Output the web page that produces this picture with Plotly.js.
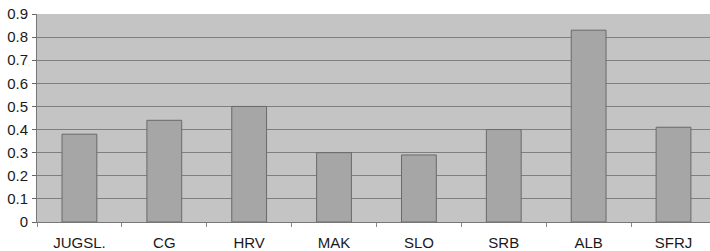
<!DOCTYPE html>
<html><head><meta charset="utf-8">
<script src="https://cdn.plot.ly/plotly-3.0.1.min.js"></script>
<style>html,body{margin:0;padding:0;overflow:hidden;background:#fff}</style>
</head><body>
<div id="chart" style="width:710px;height:251px"></div>
<script>
const categories = ["JUGSL.", "CG", "HRV", "MAK", "SLO", "SRB", "ALB", "SFRJ"];
const values = [0.38, 0.44, 0.50, 0.30, 0.29, 0.40, 0.83, 0.41];
const yTicks = [0, 0.1, 0.2, 0.3, 0.4, 0.5, 0.6, 0.7, 0.8, 0.9];
const yTickLabels = ["0", "0.1", "0.2", "0.3", "0.4", "0.5", "0.6", "0.7", "0.8", "0.9"];

Plotly.newPlot("chart", [{
  type: "bar",
  x: categories,
  y: values,
  width: 0.41,
  marker: {color: "#a6a6a6", line: {color: "#6a6a6a", width: 1}},
  hoverinfo: "none"
}], {
  width: 710, height: 251,
  margin: {l: 37, r: 0, t: 14, b: 29},
  paper_bgcolor: "#ffffff",
  plot_bgcolor: "#c4c4c4",
  showlegend: false,
  font: {family: "Liberation Sans, Arial, sans-serif", size: 15, color: "#1a1a1a"},
  xaxis: {
    type: "category",
    range: [-0.5, 7.43],
    tickson: "boundaries",
    ticks: "outside", ticklen: 4, tickcolor: "#888",
    ticklabelstandoff: 7,
    showgrid: false,
    showline: true, linecolor: "#777", linewidth: 1,
    tickfont: {size: 15, color: "#1a1a1a"},
    fixedrange: true
  },
  yaxis: {
    range: [0, 0.9],
    tickvals: yTicks, ticktext: yTickLabels,
    ticks: "outside", ticklen: 4, tickcolor: "#666",
    ticklabelstandoff: 1,
    showgrid: true, gridcolor: "#7f7f7f", gridwidth: 1,
    zeroline: false,
    showline: true, linecolor: "#777", linewidth: 1,
    tickfont: {size: 15, color: "#1a1a1a"},
    fixedrange: true
  }
}, {displayModeBar: false, staticPlot: true});
</script>
</body></html>
